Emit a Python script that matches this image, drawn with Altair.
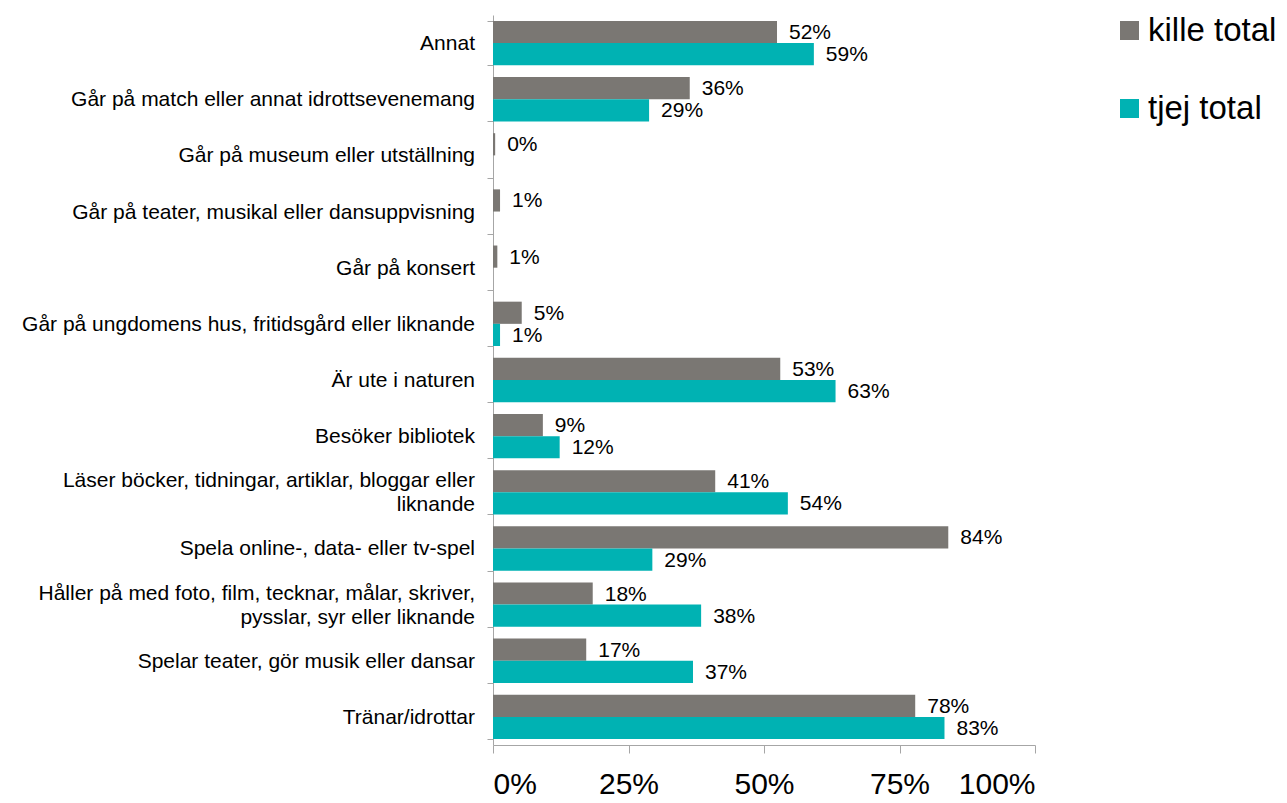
import altair as alt
import pandas as pd

categories = [
    "Annat",
    "Går på match eller annat idrottsevenemang",
    "Går på museum eller utställning",
    "Går på teater, musikal eller dansuppvisning",
    "Går på konsert",
    "Går på ungdomens hus, fritidsgård eller liknande",
    "Är ute i naturen",
    "Besöker bibliotek",
    "Läser böcker, tidningar, artiklar, bloggar eller|liknande",
    "Spela online-, data- eller tv-spel",
    "Håller på med foto, film, tecknar, målar, skriver,|pysslar, syr eller liknande",
    "Spelar teater, gör musik eller dansar",
    "Tränar/idrottar",
]
series_names = ["kille total", "tjej total"]
kille = [52.4, 36.3, 0.4, 1.3, 0.8, 5.3, 53.0, 9.2, 41.0, 84.0, 18.4, 17.2, 77.9]
tjej = [59.2, 28.8, None, None, None, 1.3, 63.2, 12.3, 54.4, 29.4, 38.4, 36.9, 83.3]
colors = ["#7a7773", "#00b2b3"]
x_ticks = [0, 25, 50, 75, 100]

rows = []
for cat, k, t in zip(categories, kille, tjej):
    if k is not None:
        rows.append({"category": cat, "series": series_names[0], "value": k})
    if t is not None:
        rows.append({"category": cat, "series": series_names[1], "value": t})
df = pd.DataFrame(rows)
df_cat = pd.DataFrame({"category": categories})

FONT = "Liberation Sans"
AX = "#a6a6a6"

y_enc = alt.Y(
    "category:N",
    sort=categories,
    scale=alt.Scale(paddingInner=0.21, paddingOuter=0.105),
    axis=alt.Axis(
        title=None,
        tickBand="extent",
        labels=False,
        tickSize=6,
        tickColor=AX,
        domainColor=AX,
        minExtent=485,
        maxExtent=485,
    ),
)
yoff = alt.YOffset("series:N", sort=series_names,
                   scale=alt.Scale(domain=series_names, paddingInner=0, paddingOuter=0))
x_enc = alt.X(
    "value:Q",
    scale=alt.Scale(domain=[0, 100], nice=False),
    axis=alt.Axis(
        title=None,
        values=x_ticks,
        labelExpr="datum.value + '%'",
        labelFontSize=30,
        labelFont=FONT,
        labelColor="black",
        labelPadding=16,
        tickSize=8,
        tickColor=AX,
        domainColor=AX,
        grid=False,
        maxExtent=50,
        minExtent=50,
    ),
)

bars = alt.Chart(df).mark_bar().encode(
    y=y_enc,
    yOffset=yoff,
    x=x_enc,
    color=alt.Color(
        "series:N",
        scale=alt.Scale(domain=series_names, range=colors),
        legend=alt.Legend(
            title=None,
            orient="none",
            legendX=620,
            legendY=-1,
            symbolType="square",
            symbolSize=361,
            symbolStrokeWidth=0,
            labelFontSize=33,
            labelFont=FONT,
            labelColor="black",
            labelOffset=2,
            rowPadding=44,
            padding=0,
        ),
    ),
)
labels = alt.Chart(df).mark_text(
    align="left", baseline="middle", dx=12, dy=1, fontSize=21, font=FONT, color="black"
).transform_calculate(
    label="format(datum.value, '.0f') + '%'"
).encode(
    y=alt.Y("category:N", sort=categories),
    yOffset=alt.YOffset("series:N", sort=series_names),
    x=alt.X("value:Q"),
    text="label:N",
)

cat_single = alt.Chart(df_cat).mark_text(
    align="right", baseline="middle", fontSize=21, font=FONT, color="black", dy=1
).transform_filter(
    "indexof(datum.category, '|') < 0"
).encode(
    y=alt.Y("category:N", sort=categories),
    x=alt.value(-18),
    text="category:N",
)
cat_double = alt.Chart(df_cat).mark_text(
    align="right", baseline="middle", fontSize=21, font=FONT, color="black",
    lineBreak="|", lineHeight=24, dy=-11
).transform_filter(
    "indexof(datum.category, '|') >= 0"
).encode(
    y=alt.Y("category:N", sort=categories),
    x=alt.value(-18),
    text="category:N",
)

chart = (
    alt.layer(bars, labels, cat_single, cat_double)
    .properties(width=542, height=730, padding={"left": 0, "top": 6, "right": 0, "bottom": 0})
    .configure_view(stroke=None)
)
chart.save("out.html", embed_options={"renderer": "svg", "actions": False})
